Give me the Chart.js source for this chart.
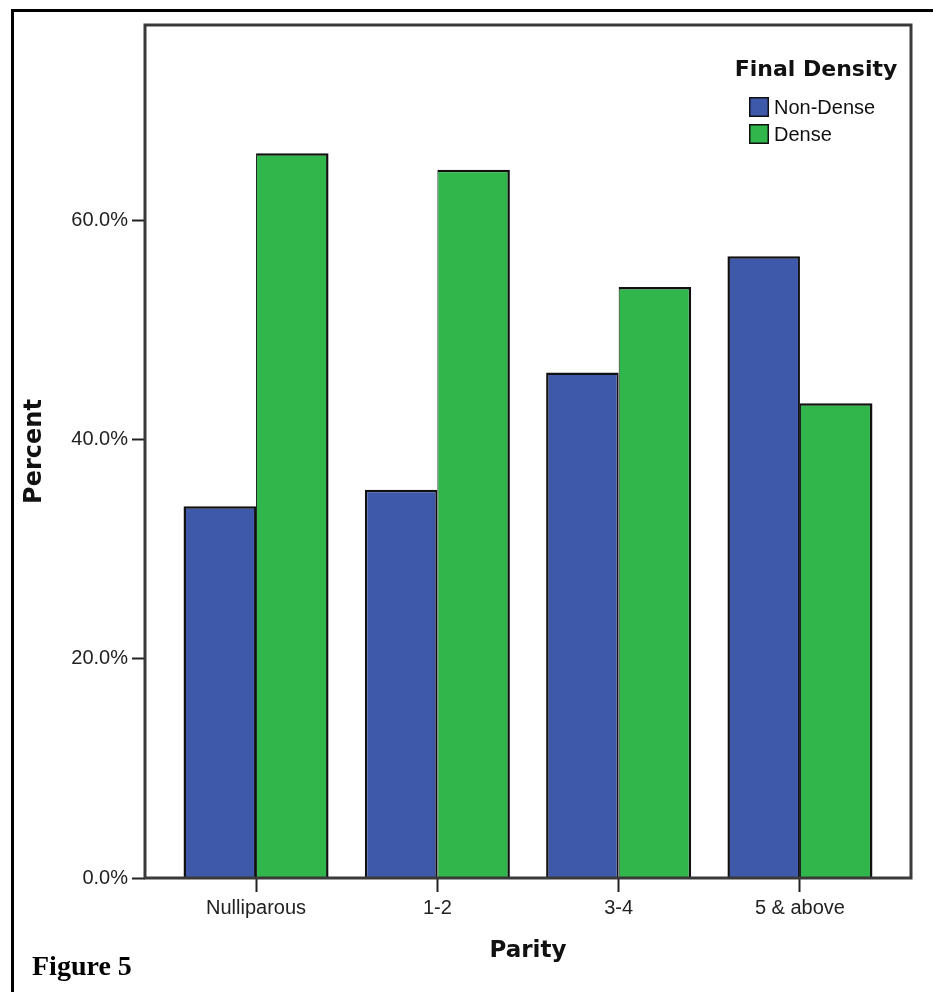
<!DOCTYPE html>
<html>
<head>
<meta charset="utf-8">
<script src="https://cdn.jsdelivr.net/npm/chart.js@4.4.1/dist/chart.umd.min.js"></script>
<style>
  html, body { margin: 0; padding: 0; background: #fff; }
  canvas { display: block; }
</style>
</head>
<body>
<canvas id="parityChart" width="933" height="992"></canvas>
<script>
// Data
const categories = ["Nulliparous", "1-2", "3-4", "5 & above"];
const nonDense = [33.9, 35.4, 46.1, 56.7];
const dense = [66.1, 64.6, 53.9, 43.3];
const seriesLabels = ["Non-Dense", "Dense"];
const legendTitle = "Final Density";
const yTicks = [0, 20, 40, 60];

const blue = "#3e58aa";
const green = "#30b64b";
const sansFont = "'Liberation Sans', Arial, sans-serif";
const boldFont = "'DejaVu Sans', sans-serif";

// frame, plot box, legend and caption
const decorPlugin = {
    id: "decor",
    beforeDraw(chart) {
        const ctx = chart.ctx;
        ctx.save();
        ctx.fillStyle = "#fff";
        ctx.fillRect(0, 0, chart.width, chart.height);
        ctx.strokeStyle = "#000";
        ctx.lineWidth = 3;
        ctx.beginPath();
        ctx.moveTo(12.5, chart.height);
        ctx.lineTo(12.5, 10.5);
        ctx.lineTo(chart.width, 10.5);
        ctx.stroke();
        ctx.restore();
    },
    afterDatasetsDraw(chart) {
        const { ctx, chartArea: a } = chart;
        ctx.save();
        ctx.strokeStyle = "#3a3a3a";
        ctx.lineWidth = 3;
        ctx.strokeRect(a.left, a.top, a.right - a.left, a.bottom - a.top);
        ctx.restore();
    },
    afterDraw(chart) {
        const { ctx, chartArea: a } = chart;
        ctx.save();
        // legend
        ctx.fillStyle = "#111";
        ctx.font = "bold 22px " + boldFont;
        ctx.textAlign = "center";
        ctx.textBaseline = "alphabetic";
        ctx.fillText(legendTitle, a.right - 95, a.top + 51);
        chart.data.datasets.forEach((ds, i) => {
            const bx = a.right - 162;
            const by = a.top + 72 + i * 27;
            ctx.fillStyle = ds.backgroundColor;
            ctx.fillRect(bx, by, 20, 20);
            ctx.strokeStyle = "#111";
            ctx.lineWidth = 1.5;
            ctx.strokeRect(bx + 0.75, by + 0.75, 18.5, 18.5);
            ctx.fillStyle = "#111";
            ctx.font = "20px " + sansFont;
            ctx.textAlign = "left";
            ctx.textBaseline = "middle";
            ctx.fillText(ds.label, bx + 25, by + 11);
        });
        // caption
        ctx.fillStyle = "#000";
        ctx.font = "bold 28px 'Liberation Serif', 'Times New Roman', serif";
        ctx.textAlign = "left";
        ctx.textBaseline = "alphabetic";
        ctx.fillText("Figure 5", 32, 975);
        ctx.restore();
    }
};

const ctx = document.getElementById("parityChart").getContext("2d");
new Chart(ctx, {
    type: "bar",
    data: {
        datasets: [
            {
                label: seriesLabels[0],
                data: nonDense.map((v, i) => ({ x: i, y: v })),
                backgroundColor: blue,
                borderColor: "#111",
                borderWidth: { top: 2.5, left: 2.5, right: 2, bottom: 0 }
            },
            {
                label: seriesLabels[1],
                data: dense.map((v, i) => ({ x: i, y: v })),
                backgroundColor: green,
                borderColor: "#111",
                borderWidth: { top: 2.5, left: 1, right: 2.5, bottom: 0 }
            }
        ]
    },
    options: {
        responsive: false,
        animation: false,
        categoryPercentage: 0.8,
        barPercentage: 1.0,
        layout: { padding: { left: 0, top: 25, right: 22, bottom: 0 } },
        plugins: {
            legend: { display: false },
            tooltip: { enabled: false }
        },
        scales: {
            x: {
                type: "linear",
                min: -0.6125,
                max: 3.6125,
                offset: false,
                afterFit: s => { s.height = 114; },
                border: { display: false },
                grid: {
                    offset: false,
                    drawOnChartArea: false,
                    drawTicks: true,
                    tickLength: 14,
                    tickWidth: 2,
                    tickColor: "#222"
                },
                ticks: {
                    stepSize: 1,
                    includeBounds: false,
                    autoSkip: false,
                    maxRotation: 0,
                    padding: 4,
                    color: "#222",
                    font: { family: sansFont, size: 20 },
                    callback: v => Number.isInteger(v) ? categories[v] : ""
                },
                title: {
                    display: true,
                    text: "Parity",
                    color: "#111",
                    font: { family: boldFont, size: 23, weight: "bold" },
                    padding: { top: 0, bottom: 27 }
                }
            },
            y: {
                min: 0,
                max: 77.8,
                afterFit: s => { s.width = 145; },
                border: { display: false },
                grid: {
                    drawOnChartArea: false,
                    drawTicks: true,
                    tickLength: 13,
                    tickWidth: 2,
                    tickColor: "#222"
                },
                ticks: {
                    stepSize: 20,
                    includeBounds: false,
                    padding: 4,
                    color: "#222",
                    font: { family: sansFont, size: 20 },
                    callback: v => yTicks.includes(v) ? v.toFixed(1) + "%" : ""
                },
                title: {
                    display: true,
                    text: "Percent",
                    color: "#111",
                    font: { family: boldFont, size: 24, weight: "bold" },
                    padding: { top: 20, bottom: 0 }
                }
            }
        }
    },
    plugins: [decorPlugin]
});
</script>
</body>
</html>
